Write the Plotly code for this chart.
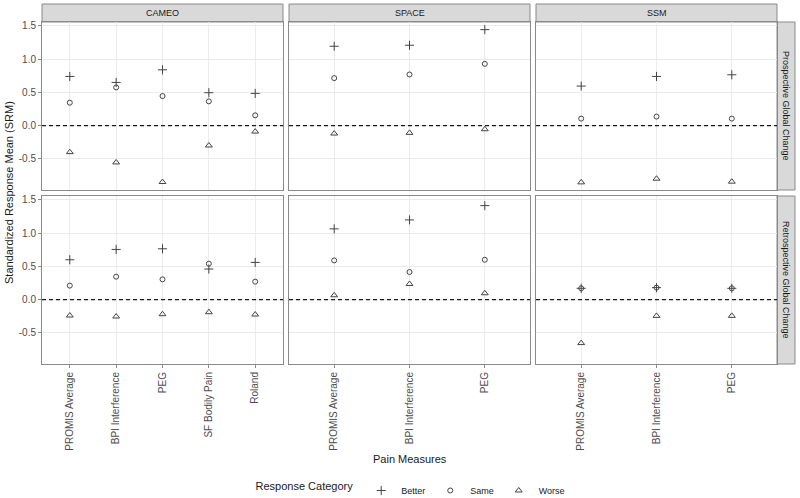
import plotly.graph_objects as go

# ---------------- data ----------------
studies = ["CAMEO", "SPACE", "SSM"]
timeframes = ["Prospective Global Change", "Retrospective Global Change"]
measures = {
    "CAMEO": ["PROMIS Average", "BPI Interference", "PEG", "SF Bodily Pain", "Roland"],
    "SPACE": ["PROMIS Average", "BPI Interference", "PEG"],
    "SSM": ["PROMIS Average", "BPI Interference", "PEG"],
}
categories = ["Better", "Same", "Worse"]

# Prospective Global Change
pro_cameo_better = [0.74, 0.65, 0.84, 0.495, 0.485]
pro_cameo_same = [0.345, 0.575, 0.445, 0.365, 0.155]
pro_cameo_worse = [-0.40, -0.555, -0.85, -0.30, -0.09]
pro_space_better = [1.195, 1.21, 1.445]
pro_space_same = [0.715, 0.77, 0.93]
pro_space_worse = [-0.12, -0.11, -0.055]
pro_ssm_better = [0.595, 0.74, 0.765]
pro_ssm_same = [0.105, 0.135, 0.105]
pro_ssm_worse = [-0.855, -0.80, -0.845]

# Retrospective Global Change
ret_cameo_better = [0.60, 0.755, 0.765, 0.46, 0.56]
ret_cameo_same = [0.21, 0.345, 0.305, 0.54, 0.27]
ret_cameo_worse = [-0.24, -0.255, -0.22, -0.19, -0.225]
ret_space_better = [1.065, 1.20, 1.415]
ret_space_same = [0.59, 0.415, 0.60]
ret_space_worse = [0.065, 0.235, 0.095]
ret_ssm_better = [0.17, 0.18, 0.17]
ret_ssm_same = [0.17, 0.18, 0.17]
ret_ssm_worse = [-0.655, -0.245, -0.245]

y_ticks = [-0.5, 0.0, 0.5, 1.0, 1.5]
y_tick_text = ["-0.5", "0.0", "0.5", "1.0", "1.5"]

values = {
    (0, "CAMEO"): [pro_cameo_better, pro_cameo_same, pro_cameo_worse],
    (0, "SPACE"): [pro_space_better, pro_space_same, pro_space_worse],
    (0, "SSM"): [pro_ssm_better, pro_ssm_same, pro_ssm_worse],
    (1, "CAMEO"): [ret_cameo_better, ret_cameo_same, ret_cameo_worse],
    (1, "SPACE"): [ret_space_better, ret_space_same, ret_space_worse],
    (1, "SSM"): [ret_ssm_better, ret_ssm_same, ret_ssm_worse],
}

# ---------------- layout geometry ----------------
W, H = 800, 498
col_px = [(42, 283), (289, 530), (536, 777)]
row_px = [(22, 190), (196, 364)]
strip_top = (4, 22)
strip_right = (777, 795)
y_range = [-0.97, 1.56]

symbols = {"Better": "cross-thin-open", "Same": "circle-open", "Worse": "triangle-up-open"}
sizes = {"Better": 6.5, "Same": 5, "Worse": 6}
mark_color = "#444444"
tick_color = "#4d4d4d"
border = "#8a8a8a"
grid = "#ebebeb"
font_fam = "Liberation Sans, Arial, sans-serif"

fig = go.Figure()
layout = dict(
    width=W, height=H, margin=dict(l=0, r=0, t=0, b=0, autoexpand=False),
    paper_bgcolor="white", plot_bgcolor="white",
    font=dict(family=font_fam, color="#1a1a1a"),
    showlegend=True,
)
shapes = []
annotations = []

legend_shown = set()
for r in range(2):
    for c, study in enumerate(studies):
        n = r * 3 + c + 1
        xa = "x" if n == 1 else f"x{n}"
        ya = "y" if n == 1 else f"y{n}"
        xkey = "xaxis" if n == 1 else f"xaxis{n}"
        ykey = "yaxis" if n == 1 else f"yaxis{n}"
        cats = measures[study]
        x0, x1 = col_px[c]
        y0, y1 = row_px[r]
        layout[xkey] = dict(
            domain=[x0 / W, x1 / W], anchor=ya,
            type="category", categoryorder="array", categoryarray=cats,
            range=[-0.6, len(cats) - 0.4],
            showgrid=True, gridcolor=grid, gridwidth=1,
            showline=True, mirror=True, linecolor=border, linewidth=1,
            zeroline=False,
            showticklabels=(r == 1), tickangle=-90,
            ticks="outside" if r == 1 else "", ticklen=3, tickcolor=border,
            tickfont=dict(size=10, color=tick_color, family=font_fam),
            fixedrange=True,
        )
        layout[ykey] = dict(
            domain=[1 - y1 / H, 1 - y0 / H], anchor=xa,
            range=y_range, tickvals=y_ticks, ticktext=y_tick_text,
            showgrid=True, gridcolor=grid, gridwidth=1,
            showline=True, mirror=True, linecolor=border, linewidth=1,
            zeroline=False,
            showticklabels=(c == 0),
            ticks="outside" if c == 0 else "", ticklen=3, tickcolor=border,
            tickfont=dict(size=10, color=tick_color, family=font_fam),
            fixedrange=True,
        )
        # dashed zero reference line
        shapes.append(dict(type="line", xref=f"{xa} domain", yref=ya,
                           x0=0, x1=1, y0=0, y1=0,
                           line=dict(color="#1a1a1a", width=1.2, dash="4px,3px"),
                           layer="above"))
        for k, cat in enumerate(categories):
            fig.add_trace(go.Scatter(
                x=cats, y=values[(r, study)][k], xaxis=xa, yaxis=ya,
                mode="markers", name=cat, legendgroup=cat,
                showlegend=(cat not in legend_shown),
                marker=dict(symbol=symbols[cat], size=sizes[cat],
                            color=mark_color, line=dict(color=mark_color, width=1)),
                hoverinfo="x+y+name",
            ))
            legend_shown.add(cat)

# top strips
for c, study in enumerate(studies):
    x0, x1 = col_px[c]
    shapes.append(dict(type="rect", xref="paper", yref="paper",
                       x0=x0 / W, x1=x1 / W, y0=1 - strip_top[1] / H, y1=1 - strip_top[0] / H,
                       fillcolor="#d9d9d9", line=dict(color=border, width=1), layer="below"))
    annotations.append(dict(xref="paper", yref="paper", x=(x0 + x1) / 2 / W,
                            y=1 - (strip_top[0] + strip_top[1]) / 2 / H,
                            text=study, showarrow=False, xanchor="center", yanchor="middle",
                            font=dict(size=9, color="#1a1a1a", family=font_fam)))
# right strips
for r, tf in enumerate(timeframes):
    y0, y1 = row_px[r]
    shapes.append(dict(type="rect", xref="paper", yref="paper",
                       x0=strip_right[0] / W, x1=strip_right[1] / W, y0=1 - y1 / H, y1=1 - y0 / H,
                       fillcolor="#d9d9d9", line=dict(color=border, width=1), layer="below"))
    annotations.append(dict(xref="paper", yref="paper", x=(strip_right[0] + strip_right[1]) / 2 / W,
                            y=1 - (y0 + y1) / 2 / H, text=tf, textangle=90,
                            showarrow=False, xanchor="center", yanchor="middle",
                            font=dict(size=9, color="#1a1a1a", family=font_fam)))

# axis titles
annotations.append(dict(xref="paper", yref="paper", x=(col_px[0][0] + col_px[2][1]) / 2 / W,
                        y=1 - 459 / H, text="Pain Measures", showarrow=False,
                        xanchor="center", yanchor="middle",
                        font=dict(size=11, color="#1a1a1a", family=font_fam)))
annotations.append(dict(xref="paper", yref="paper", x=9 / W,
                        y=1 - ((row_px[0][0] + row_px[1][1]) / 2) / H,
                        text="Standardized Response Mean (SRM)", showarrow=False, textangle=-90,
                        xanchor="center", yanchor="middle",
                        font=dict(size=11, color="#1a1a1a", family=font_fam)))

layout["shapes"] = shapes
layout["annotations"] = annotations
layout["legend"] = dict(
    orientation="h", x=0.515, xanchor="center", y=-0.014, yanchor="bottom",
    title=dict(text="Response Category", font=dict(size=11, color="#1a1a1a"), side="left"),
    font=dict(size=9, color="#1a1a1a", family=font_fam),
    itemwidth=30, tracegroupgap=0, bgcolor="rgba(0,0,0,0)",
)
fig.update_layout(**layout)
fig.write_html(
    "out.html",
    config={"displayModeBar": False},
    post_script="document.body.style.margin='0';document.body.style.padding='0';",
)
